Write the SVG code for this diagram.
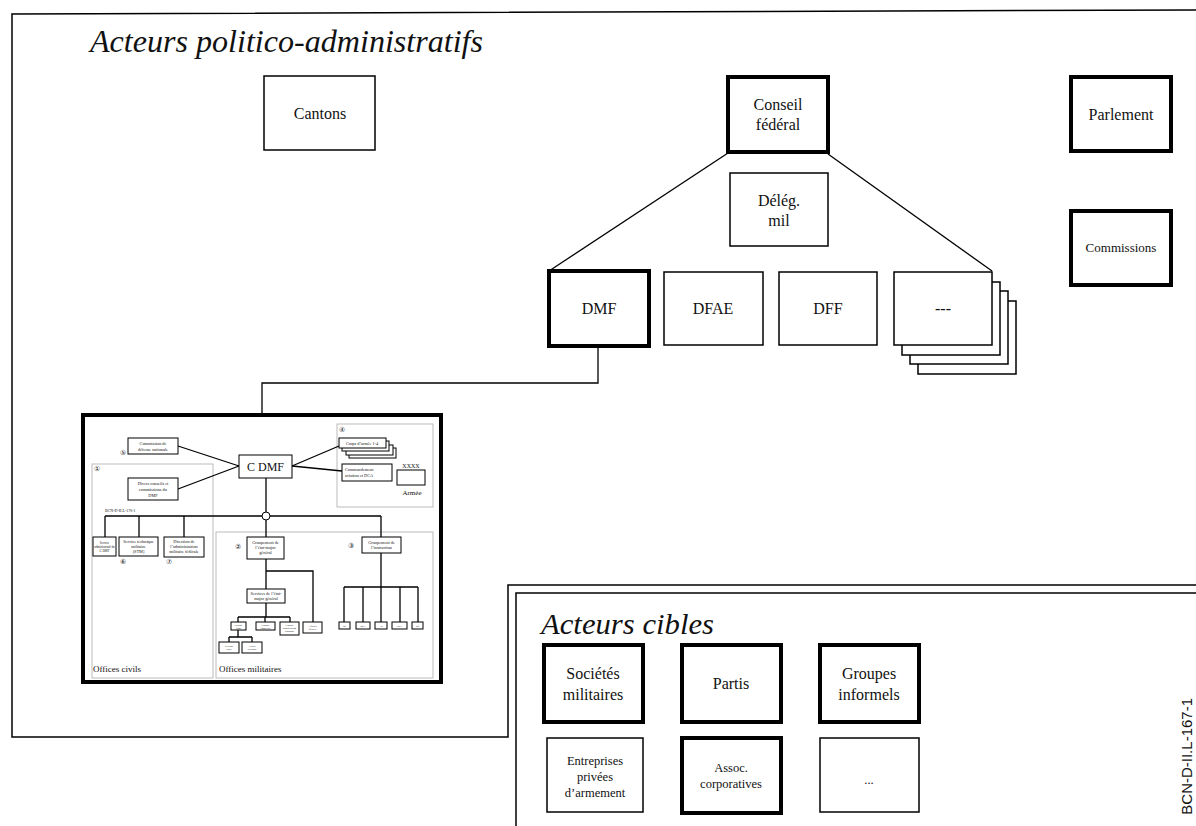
<svg xmlns="http://www.w3.org/2000/svg" width="1196" height="826" viewBox="0 0 1196 826" font-family="'Liberation Serif', 'Times New Roman', 'Noto Serif', 'DejaVu Serif', serif">
<style>
.bg{fill:#fff}
.frame{fill:none;stroke:#000;stroke-width:1.5}
.thick{fill:#fff;stroke:#000;stroke-width:4}
.thin{fill:#fff;stroke:#000;stroke-width:1.5}
.ln{fill:none;stroke:#000;stroke-width:1.3}
.gray{fill:none;stroke:#bbb;stroke-width:1}
.sb{fill:#fff;stroke:#000;stroke-width:1}
.t{text-anchor:middle;fill:#111}
.title{font-style:italic;fill:#111}
.m{font-size:16px}
.s{font-size:12.5px}
.xs{font-size:4.3px}
.num{font-size:7px;fill:#111;text-anchor:middle}
</style>
<rect class="bg" x="0" y="0" width="1196" height="826"/>

<g id="frame-politico">
<path class="frame" d="M1196,10 L12,14 V737 H508 V585 H1196"/>
<text class="title" x="90" y="52" font-size="31" textLength="393" lengthAdjust="spacingAndGlyphs">Acteurs politico-administratifs</text>
</g>
<g id="frame-cibles">
<path class="frame" d="M516,826 V593 H1196"/>
<text class="title" x="541" y="634" font-size="30" textLength="173" lengthAdjust="spacingAndGlyphs">Acteurs cibles</text>
</g>

<g id="connectors">
<line class="ln" x1="728" y1="153" x2="549" y2="271"/>
<line class="ln" x1="828" y1="154" x2="992" y2="271"/>
<path class="ln" d="M598,346 V383 H262 V415"/>
</g>

<g id="cantons"><rect class="thin" x="264" y="76" width="111" height="74"/><text class="t m" x="320" y="119">Cantons</text></g>
<g id="conseil"><rect class="thick" x="728" y="77" width="100" height="75"/><text class="t m" x="778" y="110">Conseil</text><text class="t m" x="778" y="130">fédéral</text></g>
<g id="deleg"><rect class="thin" x="730" y="173" width="98" height="73"/><text class="t m" x="779" y="206">Délég.</text><text class="t m" x="779" y="226">mil</text></g>
<g id="parlement"><rect class="thick" x="1071" y="77" width="100" height="74"/><text class="t m" x="1121" y="120">Parlement</text></g>
<g id="commissions"><rect class="thick" x="1071" y="211" width="100" height="74"/><text class="t" font-size="13" x="1121" y="252">Commissions</text></g>
<g id="dmf"><rect class="thick" x="549" y="271" width="100" height="75"/><text class="t m" x="599" y="314">DMF</text></g>
<g id="dfae"><rect class="thin" x="664" y="272" width="99" height="73"/><text class="t m" x="713" y="314">DFAE</text></g>
<g id="dff"><rect class="thin" x="779" y="272" width="98" height="73"/><text class="t m" x="828" y="314">DFF</text></g>
<g id="autres-dep">
<rect class="thin" x="918" y="301" width="98" height="73"/>
<rect class="thin" x="910" y="291" width="98" height="73"/>
<rect class="thin" x="902" y="282" width="98" height="73"/>
<rect class="thin" x="894" y="272" width="98" height="73"/>
<text class="t m" x="943" y="314">---</text>
</g>

<g id="organigramme-dmf">
<rect x="83" y="415" width="358" height="267" fill="#fff" stroke="#000" stroke-width="4"/>
<rect class="gray" x="92" y="464" width="121" height="214"/>
<rect class="gray" x="216" y="532" width="217" height="146"/>
<rect class="gray" x="337" y="424" width="96" height="83"/>
<g class="ln" stroke-width="1">
<line x1="178" y1="446" x2="239" y2="466"/>
<line x1="178" y1="489" x2="239" y2="466"/>
<line x1="292" y1="466" x2="339" y2="446"/>
<line x1="292" y1="466" x2="342" y2="471"/>
<line x1="266" y1="478" x2="266" y2="512"/>
<line x1="105" y1="516" x2="262" y2="516"/>
<line x1="270" y1="516" x2="381" y2="516"/>
<path d="M105,516 V537 M139,516 V537 M184,516 V537 M266,520 V537 M381,516 V537"/>
<path d="M266,559 V589 M266,571 H313 V622"/>
<path d="M266,603 V617 M238,617 H290 M238,617 V622 M265,617 V622 M290,617 V622"/>
<path d="M238,630 V637 M229,637 H252 M229,637 V642 M252,637 V642"/>
<path d="M381,553 V587 M344,587 H418 M344,587 V622 M363,587 V622 M381,587 V622 M400,587 V622 M418,587 V622"/>
</g>
<circle cx="266" cy="516" r="4" fill="#fff" stroke="#000" stroke-width="1"/>
<rect class="sb" x="239" y="455" width="53" height="23" stroke-width="1.2"/>
<text class="t" font-size="12" x="265.5" y="471">C DMF</text>
<rect class="sb" x="128" y="438" width="50" height="16"/>
<text class="t xs" x="153" y="445">Commission de</text><text class="t xs" x="153" y="451">défense nationale</text>
<text class="num" x="123" y="455">⑤</text>
<text class="num" x="97" y="471">①</text>
<rect class="sb" x="128" y="478" width="50" height="22"/>
<text class="t xs" x="153" y="485">Divers conseils et</text><text class="t xs" x="153" y="491">commissions du</text><text class="t xs" x="153" y="497">DMF</text>
<text class="num" x="342" y="432">④</text>
<rect class="sb" x="349" y="448" width="47" height="10"/>
<rect class="sb" x="346" y="445" width="47" height="10"/>
<rect class="sb" x="342" y="441" width="47" height="10"/>
<rect class="sb" x="339" y="438" width="47" height="10"/>
<text class="t xs" x="362" y="445">Corps d’armée 1-4</text>
<rect class="sb" x="342" y="464" width="50" height="17"/>
<text class="xs" fill="#111" x="345" y="471">Commandement</text><text class="xs" fill="#111" x="345" y="477">aviation et DCA</text>
<text class="t" font-size="6" x="411" y="468">XXXX</text>
<rect class="sb" x="397" y="470" width="28" height="15"/>
<text class="t" font-size="7" x="412" y="495">Armée</text>
<text font-size="4" fill="#111" x="105" y="512">BCN-D-II.L-176-1</text>
<rect class="sb" x="93" y="537" width="23" height="19"/>
<text class="t" font-size="3.2" x="104.5" y="544">Service</text><text class="t" font-size="3.2" x="104.5" y="548">administratif du</text><text class="t" font-size="3.2" x="104.5" y="552">C DMF</text>
<rect class="sb" x="119" y="537" width="39" height="19"/>
<text class="t xs" x="138.5" y="543">Service technique</text><text class="t xs" x="138.5" y="548">militaire</text><text class="t xs" x="138.5" y="553">(STM)</text>
<rect class="sb" x="164" y="537" width="40" height="20"/>
<text class="t xs" x="184" y="543">Direction de</text><text class="t xs" x="184" y="548">l’administration</text><text class="t xs" x="184" y="553">militaire fédérale</text>
<text class="num" x="123" y="564">⑥</text>
<text class="num" x="169" y="564">⑦</text>
<text class="num" x="238" y="549">②</text>
<rect class="sb" x="247" y="537" width="37" height="22"/>
<text class="t xs" x="265.5" y="544">Groupement de</text><text class="t xs" x="265.5" y="549">l’état-major</text><text class="t xs" x="265.5" y="554">général</text>
<rect class="sb" x="247" y="589" width="38" height="14"/>
<text class="t xs" x="266" y="595">Services de l’état-</text><text class="t xs" x="266" y="600">major général</text>
<rect class="sb" x="231" y="622" width="15" height="8"/>
<text class="t" font-size="2.6" x="238.5" y="625.5">Groupe</text><text class="t" font-size="2.6" x="238.5" y="628.5">front</text>
<rect class="sb" x="256" y="622" width="19" height="8"/>
<text class="t" font-size="2.6" x="265.5" y="625.5">Groupe</text><text class="t" font-size="2.6" x="265.5" y="628.5">frontières</text>
<rect class="sb" x="280" y="622" width="19" height="13"/>
<text class="t" font-size="2.6" x="289.5" y="626">Groupe</text><text class="t" font-size="2.6" x="289.5" y="629">planification</text><text class="t" font-size="2.6" x="289.5" y="632">transport</text>
<rect class="sb" x="303" y="622" width="19" height="11"/>
<text class="t" font-size="2.6" x="312.5" y="627">Affaires</text><text class="t" font-size="2.6" x="312.5" y="630">affaires</text>
<rect class="sb" x="219" y="642" width="20" height="11"/>
<text class="t" font-size="2.6" x="229" y="647">Section</text><text class="t" font-size="2.6" x="229" y="650">règle</text>
<rect class="sb" x="242" y="642" width="20" height="11"/>
<text class="t" font-size="2.6" x="252" y="647">Autres</text><text class="t" font-size="2.6" x="252" y="650">sections</text>
<text class="num" x="351" y="548">③</text>
<rect class="sb" x="362" y="537" width="39" height="16"/>
<text class="t xs" x="381.5" y="544">Groupement de</text><text class="t xs" x="381.5" y="549">l’instruction</text>
<rect class="sb" x="339" y="622" width="11" height="7"/><text class="t" font-size="2.6" x="344.5" y="626.5">Inf</text>
<rect class="sb" x="356" y="622" width="14" height="7"/><text class="t" font-size="2.6" x="363" y="626.5">MLT</text>
<rect class="sb" x="375" y="622" width="12" height="7"/><text class="t" font-size="2.6" x="381" y="626.5">Art</text>
<rect class="sb" x="392" y="622" width="15" height="7"/><text class="t" font-size="2.6" x="399.5" y="626.5">Trp L</text>
<rect class="sb" x="412" y="622" width="11" height="7"/><text class="t" font-size="2.6" x="417.5" y="626.5">Inf</text>
<text font-size="9" x="93" y="672" fill="#111">Offices civils</text>
<text font-size="9" x="219" y="672" fill="#111">Offices militaires</text>
</g>

<g id="societes"><rect class="thick" x="544" y="645" width="99" height="77"/><text class="t m" x="593" y="679">Sociétés</text><text class="t m" x="593" y="700">militaires</text></g>
<g id="partis"><rect class="thick" x="682" y="645" width="99" height="77"/><text class="t m" x="731" y="689">Partis</text></g>
<g id="groupes"><rect class="thick" x="820" y="645" width="99" height="77"/><text class="t m" x="869" y="679">Groupes</text><text class="t m" x="869" y="700">informels</text></g>
<g id="entreprises"><rect class="thin" x="547" y="738" width="96" height="74"/><text class="t s" x="595" y="765">Entreprises</text><text class="t s" x="595" y="781">privées</text><text class="t s" x="595" y="797">d’armement</text></g>
<g id="assoc"><rect class="thick" x="682" y="738" width="99" height="75"/><text class="t s" x="731" y="772">Assoc.</text><text class="t s" x="731" y="788">corporatives</text></g>
<g id="autres-cibles"><rect class="thin" x="820" y="738" width="99" height="74"/><text class="t s" x="869" y="784">...</text></g>

<text font-family="'Liberation Sans', Arial, sans-serif" font-size="15" fill="#111" text-anchor="end" transform="translate(1192,698) rotate(-90)">BCN-D-II.L-167-1</text>
</svg>
